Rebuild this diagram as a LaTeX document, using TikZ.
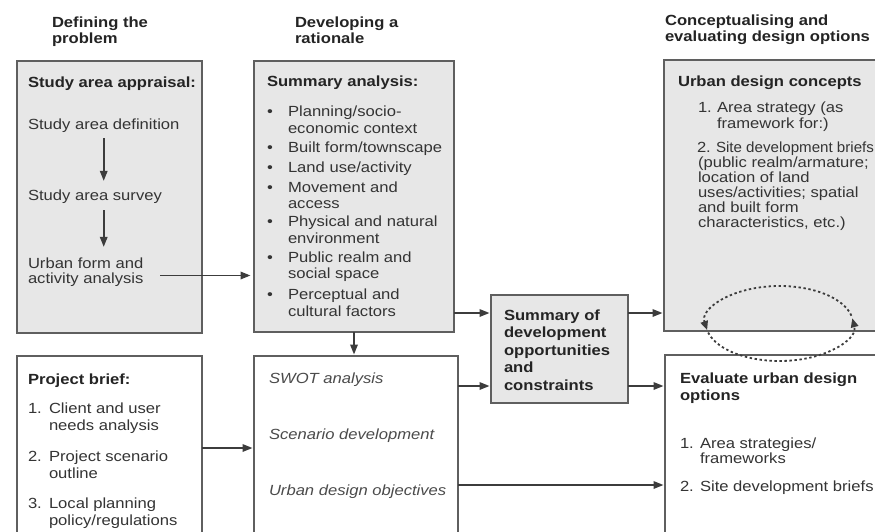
\documentclass[tikz,border=0pt]{standalone}
\usepackage{fontspec}
\setmainfont{Liberation Sans}[FakeStretch=1.13]
\usetikzlibrary{arrows.meta,calc}

\definecolor{ink}{RGB}{52,52,52}
\definecolor{inkdark}{RGB}{36,36,36}
\definecolor{inklight}{RGB}{75,75,75}
\definecolor{boxline}{RGB}{95,95,95}
\definecolor{boxfill}{RGB}{231,231,231}
\definecolor{arrowink}{RGB}{60,60,60}

% a left-aligned block of lines with its own leading; baseline on the first line
\newcommand\mklines[2]{\fontsize{14.7}{#1}\selectfont\begin{tabular}[t]{@{}l@{}}#2\end{tabular}}

\begin{document}
\begin{tikzpicture}[x=1pt,y=-1pt,
  panel/.style={draw=boxline, line width=1.3pt, anchor=north west, inner sep=0pt, outer sep=0pt},
  shaded/.style={panel, fill=boxfill},
  plain/.style={panel, fill=white},
  txt/.style={anchor=base west, inner sep=0pt, outer sep=0pt, text=ink,
    font=\fontsize{14.7}{16.5}\selectfont},
  head/.style={txt, text=inkdark, font=\fontsize{14.7}{15}\selectfont\bfseries},
  emph/.style={txt, text=inklight, font=\fontsize{14.7}{16.5}\selectfont\itshape},
  dot/.style={txt, anchor=base},
  arr/.style={draw=arrowink, line width=1.7pt, shorten >=1.5pt,
    -{Triangle[length=10pt,width=7.5pt]}},
  loopline/.style={draw=arrowink, line width=1.8pt, dash pattern=on 2.4pt off 2.6pt,
    -{Triangle[length=9pt,width=7.5pt]}}
]
\useasboundingbox (0,0) rectangle (875,532);
\fill[white] (0,0) rectangle (875,532);
\clip (0,0) rectangle (875,532);

% column headings
\node[head] (hA) at (52,28) {\mklines{15}{Defining the\\problem}};
\node[head] (hB) at (295,28) {\mklines{15}{Developing a\\rationale}};
\node[head] (hC) at (665,26) {\mklines{15}{Conceptualising and\\evaluating design options}};

% panels
\node[shaded, minimum width=185pt, minimum height=272pt] (appraisal) at (17,61) {};
\node[shaded, minimum width=200pt, minimum height=271pt] (summ) at (254,61) {};
\node[shaded, minimum width=240pt, minimum height=271pt] (concepts) at (664,60) {};
\node[plain, minimum width=185pt, minimum height=210pt] (brief) at (17,356) {};
\node[plain, minimum width=204pt, minimum height=210pt] (swot) at (254,356) {};
\node[shaded, minimum width=137pt, minimum height=108pt] (opp) at (491,295) {};
\node[plain, minimum width=240pt, minimum height=210pt] (evaluate) at (665,355) {};

% study area appraisal
\node[head] (apptitle) at (28,88) {Study area appraisal:};
\node[txt] (sadef) at (28,130) {Study area definition};
\node[txt] (sasurv) at (28,200) {Study area survey};
\node[txt] (urban) at (28,268) {\mklines{15}{Urban form and\\activity analysis}};

% summary analysis
\node[head] (sumtitle) at (267,87) {Summary analysis:};
\node[dot] (b1) at (270,117) {\textbullet};
\node[txt] (s1) at (288,117) {\mklines{16.5}{Planning/socio-\\economic context}};
\node[dot] (b2) at (270,152) {\textbullet};
\node[txt] (s2) at (288,152) {Built form/townscape};
\node[dot] (b3) at (270,172) {\textbullet};
\node[txt] (s3) at (288,172) {Land use/activity};
\node[dot] (b4) at (270,192) {\textbullet};
\node[txt] (s4) at (288,192) {\mklines{16.5}{Movement and\\access}};
\node[dot] (b5) at (270,226.5) {\textbullet};
\node[txt] (s5) at (288,226.5) {\mklines{16.5}{Physical and natural\\environment}};
\node[dot] (b6) at (270,262) {\textbullet};
\node[txt] (s6) at (288,262) {\mklines{16.5}{Public realm and\\social space}};
\node[dot] (b7) at (270,299.5) {\textbullet};
\node[txt] (s7) at (288,299.5) {\mklines{16.5}{Perceptual and\\cultural factors}};

% urban design concepts
\node[head] (contitle) at (678,87) {Urban design concepts};
\node[txt] (c1n) at (698,113) {1.};
\node[txt] (c1) at (717,113) {\mklines{16}{Area strategy (as\\framework for:)}};
\node[txt] (c2n) at (697,152) {2.};
\node[txt] (c2) at (716,152) {\scalebox{0.91}[1]{Site development briefs}};
\node[txt] (c2b) at (698,167) {\mklines{15}{(public realm/armature;\\location of land\\uses/activities; spatial\\and built form\\characteristics, etc.)}};

% project brief
\node[head] (brieftitle) at (28,384) {Project brief:};
\node[txt] (p1n) at (28,413) {1.};
\node[txt] (p1) at (49,413) {\mklines{17.5}{Client and user\\needs analysis}};
\node[txt] (p2n) at (28,461) {2.};
\node[txt] (p2) at (49,461) {\mklines{17.5}{Project scenario\\outline}};
\node[txt] (p3n) at (28,508) {3.};
\node[txt] (p3) at (49,508) {\mklines{17.5}{Local planning\\policy/regulations}};

% rationale steps
\node[emph] (w1) at (269,383) {SWOT analysis};
\node[emph] (w2) at (269,439) {Scenario development};
\node[emph] (w3) at (269,495) {Urban design objectives};

% opportunities and constraints
\node[head] (opptext) at (504,320) {\mklines{17.5}{Summary of\\development\\opportunities\\and\\constraints}};

% evaluation
\node[head] (evtitle) at (680,383) {\mklines{17}{Evaluate urban design\\options}};
\node[txt] (e1n) at (680,448) {1.};
\node[txt] (e1) at (700,448) {\mklines{15}{Area strategies/\\frameworks}};
\node[txt] (e2n) at (680,491) {2.};
\node[txt] (e2) at (700,491) {Site development briefs};

% flow inside the appraisal panel
\draw[arr] ($(sadef.south)+(0,5)$) -- ($(sasurv.north -| sadef.south)+(0,-7)$);
\draw[arr] ($(sasurv.south -| sadef.south)+(0,7)$) -- ($(urban.north -| sadef.south)+(0,-9)$);

% flow between panels
\draw[arr] ($(urban.east)+(17,3)$) -- ($(urban.east -| summ.west)+(-2,3)$);
\draw[arr] (summ.south) -- (summ.south |- swot.north);
\draw[arr] ($(summ.north east)+(0,252)$) -- ($(summ.north east -| opp.west)+(0,252)$);
\draw[arr] ($(brief.north east)+(0,92)$) -- ($(brief.north east -| swot.west)+(0,92)$);
\draw[arr] ($(swot.north east)+(0,30)$) -- ($(swot.north east -| opp.west)+(0,30)$);
\draw[arr] ($(opp.north east)+(0,18)$) -- ($(opp.north east -| concepts.west)+(0,18)$);
\draw[arr] ($(opp.north east)+(0,91)$) -- ($(opp.north east -| evaluate.west)+(0,91)$);
\draw[arr] ($(swot.north east)+(0,129)$) -- ($(swot.north east -| evaluate.west)+(0,129)$);

% feedback loop between concepts and evaluation
\coordinate (loop) at (779.5,323.5);
\draw[loopline] ($(loop)+(-12:73.5 and 37.5)$) arc[start angle=-12, end angle=-190, x radius=73.5, y radius=37.5];
\draw[loopline] ($(loop)+(166:73.5 and 37.5)$) arc[start angle=166, end angle=-8, x radius=73.5, y radius=37.5];
\end{tikzpicture}
\end{document}
